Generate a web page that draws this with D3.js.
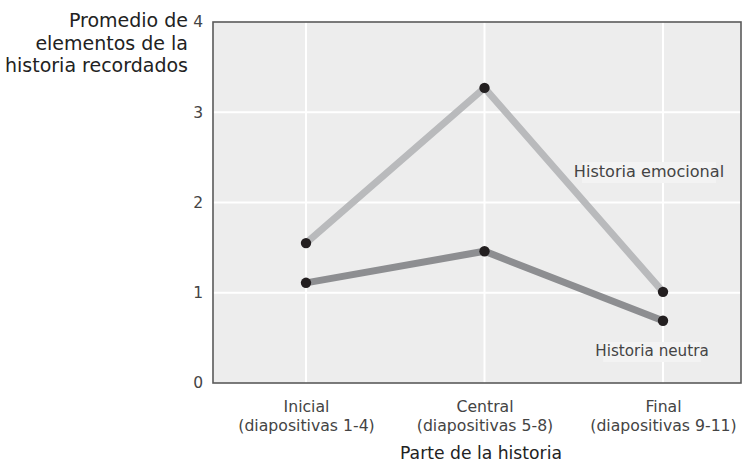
<!DOCTYPE html>
<html><head><meta charset="utf-8">
<script src="https://cdn.jsdelivr.net/npm/d3@7"></script>
<style>body{margin:0;background:#fff}svg{display:block;font-family:"DejaVu Sans",sans-serif}</style>
</head><body><svg id="c" width="755" height="466"></svg>
<script>
const categories = ["Inicial", "Central", "Final"];
const categorySub = ["(diapositivas 1-4)", "(diapositivas 5-8)", "(diapositivas 9-11)"];
const emotional = [1.55, 3.27, 1.01];
const neutral = [1.11, 1.46, 0.69];
const yTicks = [0, 1, 2, 3, 4];
const seriesNames = ["Historia emocional", "Historia neutra"];

const FONT = "'DejaVu Sans',sans-serif";
const svg = d3.select("#c");
const L = 213, R = 741, T = 22, B = 383;
const x = d3.scalePoint().domain(categories).range([306, 663]);
const y = d3.scaleLinear().domain([0, 4]).range([B, T]);

svg.append("rect").attr("x", L).attr("y", T).attr("width", R - L).attr("height", B - T).attr("fill", "#ededed");
svg.append("g").selectAll("line").data(yTicks.slice(1, -1)).join("line")
  .attr("x1", L).attr("x2", R).attr("y1", d => y(d)).attr("y2", d => y(d))
  .attr("stroke", "#fff").attr("stroke-width", 2);
svg.append("g").selectAll("line").data(categories).join("line")
  .attr("x1", d => x(d)).attr("x2", d => x(d)).attr("y1", T).attr("y2", B)
  .attr("stroke", "#fff").attr("stroke-width", 2);
svg.append("rect").attr("x", L).attr("y", T).attr("width", R - L).attr("height", B - T)
  .attr("fill", "none").attr("stroke", "#5a5a5a").attr("stroke-width", 1.6);

const yAxis = d3.axisLeft(y).tickValues(yTicks).tickSize(0).tickPadding(10).tickFormat(d3.format("d"));
const ya = svg.append("g").attr("transform", `translate(${L},0)`).call(yAxis);
ya.select(".domain").remove();
ya.selectAll("text").attr("font-size", 15.5).attr("fill", "#444").attr("font-family", FONT);

const xa = svg.append("g").attr("transform", `translate(0,${B})`)
  .call(d3.axisBottom(x).tickSize(0).tickPadding(0).tickFormat(() => ""));
xa.select(".domain").remove();
xa.selectAll(".tick").each(function(d, i) {
  const t = d3.select(this).append("text").attr("text-anchor", "middle")
    .attr("font-size", 15.7).attr("fill", "#444").attr("font-family", FONT);
  t.append("tspan").attr("x", 0).attr("y", 29).text(d);
  t.append("tspan").attr("x", 0).attr("y", 48).text(categorySub[i]);
});

const yt = svg.append("text").attr("text-anchor", "end").attr("font-size", 19).attr("fill", "#222");
["Promedio de", "elementos de la", "historia recordados"].forEach((s, i) =>
  yt.append("tspan").attr("x", 188).attr("y", 27 + i * 22.5).text(s));
svg.append("text").attr("x", 481).attr("y", 459).attr("text-anchor", "middle")
  .attr("font-size", 17.2).attr("fill", "#222").text("Parte de la historia");

const line = d3.line().x((d, i) => x(categories[i])).y(d => y(d));
svg.append("path").datum(emotional).attr("d", line).attr("fill", "none")
  .attr("stroke", "#b9babc").attr("stroke-width", 7);
svg.append("path").datum(neutral).attr("d", line).attr("fill", "none")
  .attr("stroke", "#8d8e91").attr("stroke-width", 7);
[emotional, neutral].forEach(s => {
  svg.append("g").selectAll("circle").data(s).join("circle")
    .attr("cx", (d, i) => x(categories[i])).attr("cy", d => y(d)).attr("r", 5.2).attr("fill", "#231f20");
});

function label(txt, cx, by, fs) {
  const g = svg.append("g");
  const t = g.append("text").attr("x", cx).attr("y", by).attr("text-anchor", "middle")
    .attr("font-size", fs).attr("fill", "#444").text(txt);
  const bb = t.node().getBBox();
  g.insert("rect", "text").attr("x", bb.x + 8).attr("y", bb.y).attr("width", bb.width - 16).attr("height", bb.height + 2)
    .attr("fill", "#f3f3f3");
}
label(seriesNames[0], 649, 177, 16.1);
label(seriesNames[1], 652, 356, 15.2);
</script></body></html>
